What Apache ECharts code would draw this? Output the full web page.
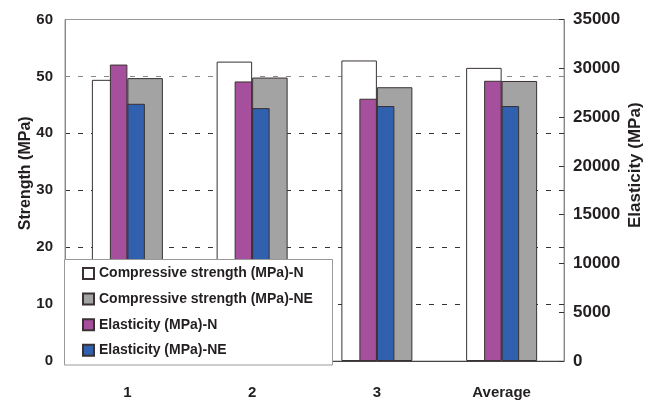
<!DOCTYPE html>
<html><head><meta charset="utf-8">
<script src="https://cdn.jsdelivr.net/npm/echarts@6/dist/echarts.min.js"></script>
<style>html,body{margin:0;padding:0;background:#fff}#c{width:658px;height:401px}</style>
</head><body><div id="c"></div>
<script>
const categories = ['1', '2', '3', 'Average'];
const strengthN = [49.4, 52.6, 52.8, 51.5];
const strengthNE = [49.7, 49.8, 48.1, 49.2];
const elasticityN = [30380, 28650, 26880, 28720];
const elasticityNE = [26360, 25920, 26130, 26130];
const strengthTicks = {min: 0, max: 60, interval: 10};
const elasticityTicks = {min: 0, max: 35000, interval: 5000};

const FONT = 'Liberation Sans';
const TXT = '#231f20';
const BORDER = '#3a3232';
const chart = echarts.init(document.getElementById('c'), null, {renderer: 'canvas'});
chart.setOption({
  animation: false,
  backgroundColor: '#fff',
  grid: {left: 65, right: 94, top: 19.5, bottom: 40, containLabel: false,
         show: true, borderColor: '#999', borderWidth: 1, backgroundColor: 'transparent'},
  xAxis: [
    {type: 'category', data: categories,
     axisLine: {lineStyle: {color: '#444', width: 1}},
     axisTick: {inside: true, length: 5, lineStyle: {color: '#444'}},
     axisLabel: {fontFamily: FONT, fontSize: 15, fontWeight: 'bold', color: TXT, margin: 24}},
    {type: 'category', data: categories, show: false}
  ],
  yAxis: [
    {type: 'value', min: strengthTicks.min, max: strengthTicks.max, interval: strengthTicks.interval,
     name: 'Strength (MPa)', nameLocation: 'middle', nameGap: 31, nameMoveOverlap: false,
     nameTextStyle: {fontFamily: FONT, fontSize: 16, fontWeight: 'bold', color: TXT, padding: [0, 0, 0, 34]},
     axisLine: {show: true, lineStyle: {color: '#888'}},
     axisTick: {show: false},
     axisLabel: {fontFamily: FONT, fontSize: 15, fontWeight: 'bold', color: TXT, margin: 12},
     splitLine: {show: true, lineStyle: {color: ['#333', '#333', '#333', '#333', '#333', '#888', '#999'], type: [5, 8], width: 1}}},
    {type: 'value', min: elasticityTicks.min, max: elasticityTicks.max, interval: elasticityTicks.interval,
     position: 'right',
     name: 'Elasticity (MPa)', nameLocation: 'middle', nameGap: 63, nameMoveOverlap: false,
     nameTextStyle: {fontFamily: FONT, fontSize: 17, fontWeight: 'bold', color: TXT, padding: [0, 0, 0, 50]},
     axisLine: {show: true, lineStyle: {color: '#888'}},
     axisTick: {show: true, inside: true, length: 5, lineStyle: {color: '#333'}},
     axisLabel: {fontFamily: FONT, fontSize: 17, fontWeight: 'bold', color: TXT, margin: 9,
                 formatter: function (v) { return String(v); }},
     splitLine: {show: false}}
  ],
  legend: {
    orient: 'vertical', left: 82, top: 266, padding: 0,
    itemWidth: 11, itemHeight: 11, itemGap: 10.6,
    icon: 'rect',
    textStyle: {fontFamily: FONT, fontSize: 14, fontWeight: 'bold', color: TXT, lineHeight: 15},
    data: ['Compressive strength (MPa)-N', 'Compressive strength (MPa)-NE', 'Elasticity (MPa)-N', 'Elasticity (MPa)-NE'],
    z: 10
  },
  graphic: [{type: 'rect', z: 8, shape: {x: 64.5, y: 259.5, width: 268, height: 105.5},
    style: {fill: '#fff', stroke: '#999', lineWidth: 1}}],
  series: [
    {name: 'Compressive strength (MPa)-N', type: 'bar', xAxisIndex: 0, yAxisIndex: 0, data: strengthN,
     barWidth: 35.5, barGap: '0%', itemStyle: {color: '#ffffff', borderColor: BORDER, borderWidth: 1}, z: 2},
    {name: 'Compressive strength (MPa)-NE', type: 'bar', xAxisIndex: 0, yAxisIndex: 0, data: strengthNE,
     barWidth: 35.5, barGap: '0%', itemStyle: {color: '#a3a3a3', borderColor: BORDER, borderWidth: 1}, z: 2},
    {name: 'Elasticity (MPa)-N', type: 'bar', xAxisIndex: 1, yAxisIndex: 1, data: elasticityN,
     barWidth: 17.5, barGap: '0%', itemStyle: {color: '#a64f9c', borderColor: BORDER, borderWidth: 1}, z: 3},
    {name: 'Elasticity (MPa)-NE', type: 'bar', xAxisIndex: 1, yAxisIndex: 1, data: elasticityNE,
     barWidth: 17.5, barGap: '0%', itemStyle: {color: '#3060ae', borderColor: BORDER, borderWidth: 1}, z: 3}
  ]
});
</script></body></html>
